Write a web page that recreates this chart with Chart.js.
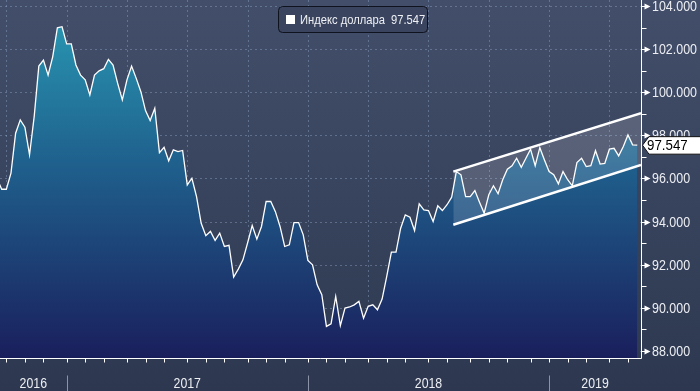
<!DOCTYPE html>
<html>
<head>
<meta charset="utf-8">
<script src="https://cdn.jsdelivr.net/npm/chart.js@4.4.0/dist/chart.umd.min.js"></script>
<style>
  html, body { margin: 0; padding: 0; background: #3a4560; }
  #wrap { width: 700px; height: 391px; }
</style>
</head>
<body>
<div id="wrap"><canvas id="dxyChart" width="700" height="391"></canvas></div>
<script>
// weekly closes, index 0 = mid Sep 2016 ... index 138 = May 2019
const dxyValues = [
  96.0, 95.5, 95.5, 96.25, 98.1, 98.72, 98.38, 97.1, 98.87, 101.22,
  101.5, 100.8, 101.66, 103.0, 103.05, 102.25, 102.25, 101.27, 100.8, 100.58,
  99.88, 100.8, 101.0, 101.1, 101.53, 101.27, 100.42, 99.65, 100.58, 101.22,
  100.65, 100.03, 99.15, 98.69, 99.26, 97.2, 97.45, 96.82, 97.33, 97.25,
  97.3, 95.7, 96.01, 95.16, 93.92, 93.34, 93.54, 93.12, 93.46, 92.84,
  92.89, 91.42, 91.79, 92.22, 93.0, 93.81, 93.18, 93.77, 94.93, 94.93,
  94.46, 93.77, 92.84, 92.92, 93.95, 93.95, 93.38, 92.19, 91.99, 91.06,
  90.6, 89.13, 89.25, 90.52, 89.16, 89.98, 90.03, 90.13, 90.29, 89.51,
  90.06, 90.13, 89.9, 90.4, 91.45, 92.58, 92.58, 93.69, 94.31, 94.2,
  93.58, 94.82, 94.54, 94.51, 94.0, 94.73, 94.51, 94.78, 95.13, 96.32,
  96.17, 95.16, 95.16, 95.44, 94.9, 94.39, 95.24, 95.66, 95.29, 95.94,
  96.43, 96.59, 96.94, 96.52, 96.94, 97.36, 96.59, 97.43, 96.86, 96.32,
  96.17, 95.75, 96.32, 95.94, 95.66, 96.74, 96.94, 96.55, 96.59, 97.29,
  96.67, 96.7, 97.36, 97.40, 97.05, 97.48, 98.02, 97.56, 97.547
];
const lastValue = 97.547;
const seriesName = 'Индекс доллара';

// trend channel: start / end week and values
const channelWeeks = [98.35, 138.81];
const channelUpper = [96.32, 99.03];
const channelLower = [93.85, 96.63];

const yTicks = [88, 90, 92, 94, 96, 98, 100, 102, 104];
const yMinorTicks = [89, 91, 93, 95, 97, 99, 101, 103];
const years = ['2016', '2017', '2018', '2019'];
const yearStarts = [15, 67, 119];
const monthTicks = [2, 6, 10, 15, 19, 23, 28, 32, 36, 41, 45, 49, 54, 58, 62, 67,
                    71, 75, 80, 84, 88, 93, 97, 102, 106, 110, 115, 119, 123, 127, 132, 136];

const FONT = '"Liberation Sans", Arial, sans-serif';

function squeezedText(ctx, text, x, y, size, sx, align) {
  ctx.save();
  ctx.font = size + 'px ' + FONT;
  ctx.textAlign = align || 'left';
  ctx.translate(x, y);
  ctx.scale(sx, 1);
  ctx.fillText(text, 0, 0);
  ctx.restore();
}

const background = {
  id: 'background',
  beforeDraw(chart) {
    const { ctx, width, height } = chart;
    const g = ctx.createLinearGradient(0, 0, 0, height);
    g.addColorStop(0, '#434e6a');
    g.addColorStop(1, '#2d3850');
    ctx.save();
    ctx.fillStyle = g;
    ctx.fillRect(0, 0, width, height);
    ctx.restore();
  }
};

const grid = {
  id: 'grid',
  beforeDatasetsDraw(chart) {
    const { ctx, chartArea: a, scales: { x, y } } = chart;
    ctx.save();
    ctx.strokeStyle = 'rgba(140, 165, 200, 0.45)';
    ctx.lineWidth = 1;
    ctx.setLineDash([2, 3]);
    ctx.beginPath();
    yTicks.forEach(v => {
      const py = Math.round(y.getPixelForValue(v)) + 0.5;
      ctx.moveTo(a.left, py);
      ctx.lineTo(a.right, py);
    });
    monthTicks.forEach((w, i) => {
      if (i % 3 !== 0) return; // quarters only
      const px = Math.round(x.getPixelForValue(w)) + 0.5;
      ctx.moveTo(px, a.top);
      ctx.lineTo(px, a.bottom);
    });
    ctx.stroke();
    ctx.restore();
  }
};

const axes = {
  id: 'axes',
  afterDraw(chart) {
    const { ctx, chartArea: a, scales: { x, y }, height } = chart;
    const r = a.right + 0.5, b = a.bottom + 0.5;
    ctx.save();
    ctx.strokeStyle = '#ffffff';
    ctx.fillStyle = '#ffffff';
    ctx.lineWidth = 1;
    ctx.beginPath();
    ctx.moveTo(a.left, b);
    ctx.lineTo(r, b);
    ctx.moveTo(r, a.top);
    ctx.lineTo(r, b);
    monthTicks.forEach(w => {
      const px = Math.round(x.getPixelForValue(w)) + 0.5;
      ctx.moveTo(px, b);
      ctx.lineTo(px, b + 4);
    });
    yMinorTicks.forEach(v => {
      const py = Math.round(y.getPixelForValue(v)) + 0.5;
      ctx.moveTo(r, py);
      ctx.lineTo(r + 5, py);
    });
    yTicks.forEach(v => {
      const py = Math.round(y.getPixelForValue(v)) + 0.5;
      ctx.moveTo(r, py);
      ctx.lineTo(r + 4, py);
    });
    ctx.stroke();

    // arrow heads on the major ticks + labels
    ctx.textBaseline = 'middle';
    yTicks.forEach(v => {
      const py = Math.round(y.getPixelForValue(v)) + 0.5;
      ctx.beginPath();
      ctx.moveTo(r + 3, py - 3);
      ctx.lineTo(r + 9, py);
      ctx.lineTo(r + 3, py + 3);
      ctx.closePath();
      ctx.fill();
      ctx.fillStyle = '#eceef2';
      squeezedText(ctx, v.toFixed(3), a.right + 11, py + 0.5, 14, 0.89);
      ctx.fillStyle = '#ffffff';
    });

    // year separators and labels
    ctx.strokeStyle = '#8a93a8';
    ctx.beginPath();
    yearStarts.forEach(w => {
      const px = Math.round(x.getPixelForValue(w)) + 0.5;
      ctx.moveTo(px, b + 17);
      ctx.lineTo(px, height);
    });
    ctx.stroke();
    const bounds = [x.min, ...yearStarts, x.max];
    ctx.fillStyle = '#eceef2';
    years.forEach((yr, i) => {
      const cx = (x.getPixelForValue(bounds[i]) + x.getPixelForValue(bounds[i + 1])) / 2;
      squeezedText(ctx, yr, cx, 384.5, 14, 0.88, 'center');
    });

    // last value flag
    const vy = y.getPixelForValue(lastValue);
    ctx.beginPath();
    ctx.moveTo(a.right + 1.5, vy);
    ctx.lineTo(a.right + 8, vy - 8.5);
    ctx.lineTo(701, vy - 8.5);
    ctx.lineTo(701, vy + 9);
    ctx.lineTo(a.right + 8, vy + 9);
    ctx.closePath();
    ctx.fillStyle = '#ffffff';
    ctx.fill();
    ctx.strokeStyle = '#111111';
    ctx.stroke();
    ctx.fillStyle = '#000000';
    squeezedText(ctx, lastValue.toFixed(3), a.right + 6, vy + 0.5, 14, 0.95);

    // legend box
    const lx = 278.5, ly = 6.5, lw = 149, lh = 26;
    ctx.beginPath();
    ctx.roundRect(lx, ly, lw, lh, 4);
    ctx.fillStyle = '#3a445e';
    ctx.fill();
    ctx.strokeStyle = '#0f131d';
    ctx.stroke();
    ctx.fillStyle = '#ffffff';
    ctx.fillRect(286, 15, 9, 9);
    ctx.fillStyle = '#eef0f4';
    squeezedText(ctx, seriesName + '  ' + lastValue.toFixed(3), 300, 20, 13, 0.86);
    ctx.restore();
  }
};

const ctx = document.getElementById('dxyChart').getContext('2d');
const chart = new Chart(ctx, {
  type: 'line',
  data: {
    datasets: [
      {
        label: 'upper',
        data: channelWeeks.map((w, i) => ({ x: w, y: channelUpper[i] })),
        borderColor: '#ffffff',
        borderWidth: 2.5,
        backgroundColor: 'rgba(255, 255, 255, 0.15)',
        fill: '+1',
        pointRadius: 0
      },
      {
        label: 'lower',
        data: channelWeeks.map((w, i) => ({ x: w, y: channelLower[i] })),
        borderColor: '#ffffff',
        borderWidth: 2.5,
        fill: false,
        pointRadius: 0
      },
      {
        label: seriesName,
        data: dxyValues.map((v, i) => ({ x: i, y: v })),
        borderColor: '#ffffff',
        borderWidth: 1.3,
        pointRadius: 0,
        tension: 0,
        fill: 'start',
        backgroundColor: (c) => {
          const { ctx, chartArea } = c.chart;
          if (!chartArea) return 'rgba(30, 90, 140, 1)';
          const g = ctx.createLinearGradient(0, chartArea.top, 0, chartArea.bottom);
          g.addColorStop(0, '#2a9db6');
          g.addColorStop(0.45, '#1f618e');
          g.addColorStop(1, '#1a1f5c');
          return g;
        }
      }
    ]
  },
  options: {
    responsive: false,
    devicePixelRatio: 1,
    animation: false,
    layout: { padding: { left: 0, right: 59, top: 0, bottom: 33 } },
    scales: {
      x: { type: 'linear', min: 0.633, max: 138.81, display: false },
      y: { min: 87.66, max: 104.29, display: false }
    },
    plugins: {
      legend: { display: false },
      tooltip: { enabled: false }
    }
  },
  plugins: [background, grid, axes]
});
</script>
</body>
</html>
